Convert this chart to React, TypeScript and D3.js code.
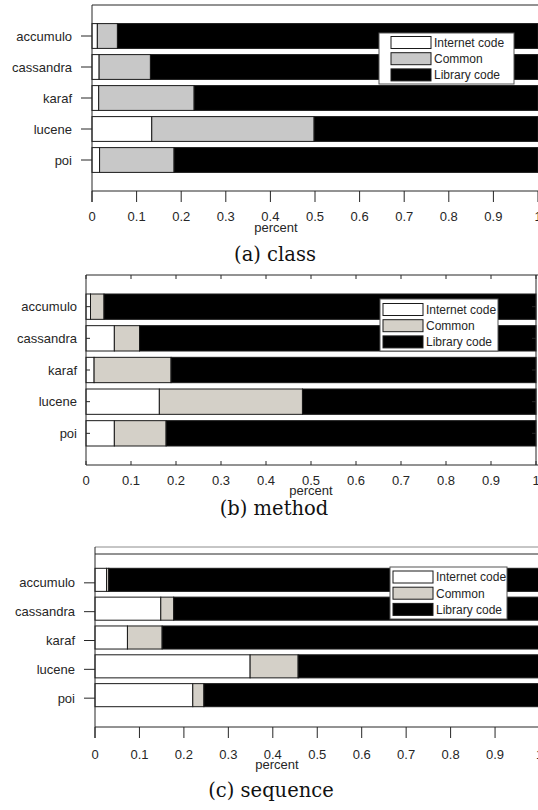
import { useEffect } from "react";
import * as d3 from "d3";

// categories and series
const projects = ["accumulo", "cassandra", "karaf", "lucene", "poi"];
const seriesKeys = ["internet", "common", "library"];
const seriesLabels = ["Internet code", "Common", "Library code"];
const xTickValues = [0, 0.1, 0.2, 0.3, 0.4, 0.5, 0.6, 0.7, 0.8, 0.9, 1];
const xTickLabels = ["0", "0.1", "0.2", "0.3", "0.4", "0.5", "0.6", "0.7", "0.8", "0.9", "1"];

// (a) class
const classInternet = [0.012, 0.016, 0.015, 0.134, 0.017];
const classCommon = [0.045, 0.115, 0.214, 0.364, 0.167];
const classLibrary = [0.943, 0.869, 0.771, 0.502, 0.816];

// (b) method
const methodInternet = [0.010, 0.063, 0.018, 0.163, 0.063];
const methodCommon = [0.030, 0.056, 0.171, 0.318, 0.115];
const methodLibrary = [0.960, 0.881, 0.811, 0.519, 0.822];

// (c) sequence
const seqInternet = [0.026, 0.148, 0.073, 0.349, 0.220];
const seqCommon = [0.005, 0.029, 0.078, 0.108, 0.025];
const seqLibrary = [0.969, 0.823, 0.849, 0.543, 0.755];

const SANS = "'Liberation Sans', Arial, sans-serif";
const SERIF = "'DejaVu Serif', serif";
const INK = "#262626";

type Cfg = {
  left: number; right: number; top: number; bottom: number;
  ticks: "in" | "out"; tickLen: number; box: boolean;
  labelY: number; percentX: number; percentY: number;
  caption: string; captionX: number; captionY: number;
  legend: { x: number; y: number; w: number; h: number; sx: number; r0: number };
  commonFill: string; barShift: number; extraTop?: number;
};

const panelA: Cfg = {
  left: 92, right: 538, top: 5, bottom: 191, ticks: "out", tickLen: 11, box: false,
  labelY: 221, percentX: 276, percentY: 232,
  caption: "(a) class", captionX: 275, captionY: 261,
  legend: { x: 379, y: 33, w: 135, h: 51, sx: 12, r0: 9.5 },
  commonFill: "#c8c8c8", barShift: 0,
};
const panelB: Cfg = {
  left: 86, right: 536, top: 275, bottom: 465, ticks: "in", tickLen: 4, box: true,
  labelY: 485, percentX: 311, percentY: 495,
  caption: "(b) method", captionX: 274, captionY: 515,
  legend: { x: 380, y: 299, w: 118, h: 52, sx: 3, r0: 10.5 },
  commonFill: "#d4d0c8", barShift: 0,
};
const panelC: Cfg = {
  left: 95, right: 539.5, top: 554, bottom: 727, ticks: "out", tickLen: 11, box: false,
  labelY: 759, percentX: 277, percentY: 769,
  caption: "(c) sequence", captionX: 271, captionY: 797,
  legend: { x: 390, y: 567, w: 117, h: 52, sx: 3, r0: 10 },
  commonFill: "#d4d0c8", barShift: -3, extraTop: 547,
};

function Panel({ cfg, internet, common, library }: { cfg: Cfg; internet: number[]; common: number[]; library: number[] }) {
  const rows = projects.map((p, i) => ({ project: p, internet: internet[i], common: common[i], library: library[i] }));
  const stacked = d3.stack<any>().keys(seriesKeys)(rows);
  const x = d3.scaleLinear().domain([0, 1]).range([cfg.left, cfg.right]);
  const y = d3.scaleBand().domain(projects).range([cfg.top, cfg.bottom]).paddingInner(0.2).paddingOuter(0.6);
  const fills = ["#ffffff", cfg.commonFill, "#000000"];
  const out = cfg.ticks === "out";
  const lg = cfg.legend;

  return (
    <g>
      {/* bars */}
      {stacked.map((layer, li) => (
        <g key={layer.key}>
          {layer.map((d: any) => (
            <rect
              key={d.data.project}
              x={x(d[0])}
              y={(y(d.data.project) as number) + cfg.barShift}
              width={x(d[1]) - x(d[0])}
              height={y.bandwidth()}
              fill={fills[li]}
              stroke="#1a1a1a"
              strokeWidth={1}
            />
          ))}
        </g>
      ))}

      {/* frame */}
      {cfg.extraTop !== undefined && (
        <line x1={cfg.left} x2={538} y1={cfg.extraTop} y2={cfg.extraTop} stroke="#8c8c8c" />
      )}
      <line x1={cfg.left} x2={538} y1={cfg.top} y2={cfg.top} stroke={INK} />
      <line x1={cfg.left} x2={538} y1={cfg.bottom} y2={cfg.bottom} stroke={INK} />
      <line
        x1={cfg.left} x2={cfg.left}
        y1={cfg.extraTop ?? cfg.top}
        y2={out ? cfg.bottom + cfg.tickLen : cfg.bottom}
        stroke={INK}
      />
      {cfg.box && <line x1={cfg.right} x2={cfg.right} y1={cfg.top} y2={cfg.bottom} stroke={INK} />}

      {/* x ticks */}
      {xTickValues.map((t, i) => (
        <g key={t}>
          <line
            x1={x(t)} x2={x(t)}
            y1={cfg.bottom}
            y2={out ? cfg.bottom + cfg.tickLen : cfg.bottom - cfg.tickLen}
            stroke={INK}
          />
          {cfg.box && (
            <line x1={x(t)} x2={x(t)} y1={cfg.top} y2={cfg.top + cfg.tickLen} stroke={INK} />
          )}
          <text x={x(t)} y={cfg.labelY} textAnchor="middle" fontFamily={SANS} fontSize={13} fill={INK}>
            {xTickLabels[i]}
          </text>
        </g>
      ))}

      {/* y ticks */}
      {projects.map((p) => {
        const cy = (y(p) as number) + y.bandwidth() / 2;
        return (
          <g key={p}>
            <line
              x1={out ? cfg.left - cfg.tickLen : cfg.left}
              x2={out ? cfg.left : cfg.left + cfg.tickLen}
              y1={cy} y2={cy}
              stroke={INK}
            />
            {cfg.box && <line x1={cfg.right - cfg.tickLen} x2={cfg.right} y1={cy} y2={cy} stroke={INK} />}
            <text
              x={out ? cfg.left - cfg.tickLen - 9 : cfg.left - 9}
              y={cy}
              dy="0.35em"
              textAnchor="end"
              fontFamily={SANS}
              fontSize={13}
              fill={INK}
            >
              {p}
            </text>
          </g>
        );
      })}

      <text x={cfg.percentX} y={cfg.percentY} textAnchor="middle" fontFamily={SANS} fontSize={13} fill={INK}>
        percent
      </text>
      <text x={cfg.captionX} y={cfg.captionY} textAnchor="middle" fontFamily={SERIF} fontSize={19.5} fill="#111">
        {cfg.caption}
      </text>

      {/* legend */}
      <rect x={lg.x} y={lg.y} width={lg.w} height={lg.h} fill="#fff" stroke="#555" />
      {seriesLabels.map((s, i) => {
        const cy = lg.y + lg.r0 + i * 16.2;
        return (
          <g key={s}>
            <rect x={lg.x + lg.sx} y={cy - 6} width={40} height={12} fill={fills[i]} stroke="#1a1a1a" />
            <text x={lg.x + lg.sx + 43} y={cy} dy="0.36em" fontFamily={SANS} fontSize={12} fill={INK}>
              {s}
            </text>
          </g>
        );
      })}
    </g>
  );
}

export default function App() {
  useEffect(() => {
    document.body.style.margin = "0";
  }, []);
  return (
    <svg width={538} height={810} style={{ position: "absolute", left: 0, top: 0, background: "#fff" }}>
      <rect width={538} height={810} fill="#fff" />
      <Panel cfg={panelA} internet={classInternet} common={classCommon} library={classLibrary} />
      <Panel cfg={panelB} internet={methodInternet} common={methodCommon} library={methodLibrary} />
      <Panel cfg={panelC} internet={seqInternet} common={seqCommon} library={seqLibrary} />
    </svg>
  );
}
